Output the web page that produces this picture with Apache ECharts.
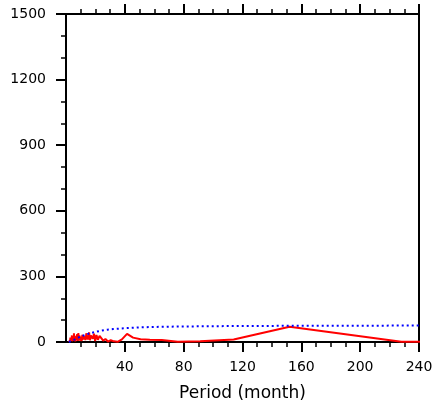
<!DOCTYPE html>
<html>
<head>
<meta charset="utf-8">
<script src="https://cdn.jsdelivr.net/npm/echarts@6/dist/echarts.min.js"></script>
<style>html,body{margin:0;padding:0;background:#fff;}#c{width:432px;height:404px;}</style>
</head>
<body>
<div id="c"></div>
<script>
// Spectrum periods (months) and power
const periods = [456, 228, 152, 114, 91.2, 76, 65.1, 57, 50.7, 45.6, 41.5, 38, 35.1, 32.6, 30.4, 28.5, 26.8, 25.3, 24, 22.8, 21.7, 20.7, 19.8, 19, 18.2, 17.5, 16.9, 16.3, 15.7, 15.2, 14.7, 14.3, 13.8, 13.4, 13.0, 12.7, 12.3, 12.0, 11.7, 11.4, 11.1, 10.9, 10.6, 10.4, 10.1, 9.9, 9.5, 9.1, 8.8, 8.4, 8.1, 7.9, 7.6, 7.1, 6.7, 6.3, 6.0, 5.7, 5.4, 5.2, 4.8, 4.6, 4.2, 4.0, 3.8, 3.5, 3.3, 3.0, 2.8, 2.6, 2.4, 2.2, 2.0];
const power = [0, 1, 70, 11, 3, 1, 9, 10, 13, 20, 37, 12, 1, 3, 8, 2, 14, 6, 2, 28, 10, 32, 4, 38, 15, 6, 30, 8, 44, 12, 3, 22, 40, 9, 18, 5, 26, 11, 2, 16, 33, 7, 20, 4, 14, 24, 6, 30, 10, 41, 5, 18, 36, 8, 22, 3, 28, 12, 40, 6, 18, 25, 4, 30, 10, 16, 3, 20, 8, 12, 2, 6, 0];
const rnPeriods = [2, 4, 6, 8, 10, 12, 14, 16, 20, 24, 28, 32, 40, 50, 60, 80, 114, 152, 228, 456];
const rnPower = [0, 6, 12, 19, 25, 30, 35, 39, 46, 52, 56, 59, 63, 67, 69, 71, 73, 74, 75, 76];
const xTicks = [0, 40, 80, 120, 160, 200, 240];
const yTicks = [0, 300, 600, 900, 1200, 1500];

const font = 'DejaVu Sans, sans-serif';
const chart = echarts.init(document.getElementById('c'), null, {renderer: 'canvas'});
const axisLine = {show: true, onZero: false, lineStyle: {color: '#000', width: 2}};
const xMajorTicks = xTicks.slice(1);
chart.setOption({
  animation: false,
  backgroundColor: '#fff',
  grid: {left: 66, right: 13, top: 14, bottom: 62, containLabel: false, outerBoundsMode: 'none'},
  xAxis: [{
    type: 'value', min: xTicks[0], max: xTicks[xTicks.length - 1], interval: 40,
    position: 'bottom',
    name: 'Period (month)', nameLocation: 'middle', nameGap: 43,
    nameTextStyle: {fontFamily: font, fontSize: 17, color: '#000'},
    axisLine: axisLine,
    axisTick: {show: true, length: 10, customValues: xMajorTicks, lineStyle: {color: '#000', width: 2}},
    minorTick: {show: true, splitNumber: 4, length: 5, lineStyle: {color: '#000', width: 1.5}},
    axisLabel: {fontFamily: font, fontSize: 14, color: '#000', margin: 18,
      formatter: v => (v === 0 ? '' : String(v))},
    splitLine: {show: false}
  }, {
    type: 'value', min: xTicks[0], max: xTicks[xTicks.length - 1], interval: 40,
    position: 'top',
    axisLine: axisLine,
    axisTick: {show: true, length: 10, customValues: xMajorTicks, lineStyle: {color: '#000', width: 2}},
    minorTick: {show: true, splitNumber: 4, length: 5, lineStyle: {color: '#000', width: 1.5}},
    axisLabel: {show: false},
    splitLine: {show: false}
  }],
  yAxis: [{
    type: 'value', min: yTicks[0], max: yTicks[yTicks.length - 1], interval: 300,
    position: 'left',
    axisLine: axisLine,
    axisTick: {show: true, length: 10, lineStyle: {color: '#000', width: 2}},
    minorTick: {show: true, splitNumber: 3, length: 5, lineStyle: {color: '#000', width: 1.5}},
    axisLabel: {fontFamily: font, fontSize: 14, color: '#000', margin: 20,
      formatter: v => String(v)},
    splitLine: {show: false}
  }, {
    type: 'value', min: yTicks[0], max: yTicks[yTicks.length - 1], interval: 300,
    position: 'right',
    axisLine: axisLine,
    axisTick: {show: false},
    axisLabel: {show: false},
    splitLine: {show: false}
  }],
  series: [{
    type: 'line', xAxisIndex: 0, yAxisIndex: 0,
    data: periods.map((p, i) => [p, power[i]]),
    showSymbol: false, symbol: 'none', clip: true,
    lineStyle: {color: '#ff0000', width: 2}
  }, {
    type: 'line', xAxisIndex: 0, yAxisIndex: 0,
    data: rnPeriods.map((p, i) => [p, rnPower[i]]),
    showSymbol: false, symbol: 'none', clip: true, z: 3,
    lineStyle: {color: '#0000ff', width: 2, type: [2, 3]}
  }]
});
</script>
</body>
</html>
